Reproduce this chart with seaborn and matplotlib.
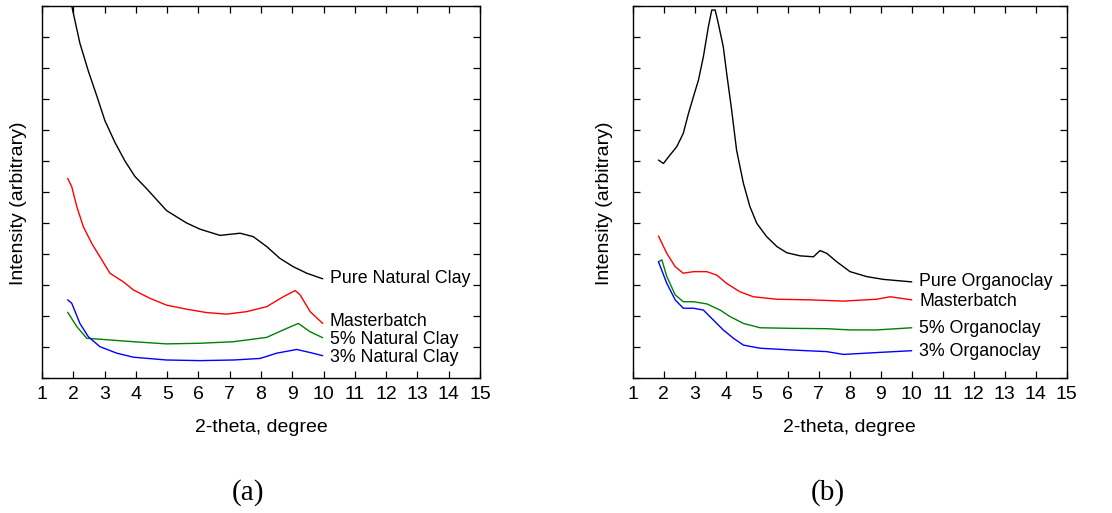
import pandas as pd
import matplotlib
matplotlib.use('Agg')
import matplotlib.pyplot as plt
import seaborn as sns

sns.set_style('ticks')
plt.rcParams['font.family'] = ['Liberation Sans', 'DejaVu Sans']
for k in ['text.color', 'axes.labelcolor', 'xtick.color', 'ytick.color', 'axes.edgecolor']:
    plt.rcParams[k] = 'black'

# (a) natural clay
a_pure_x = [1.82, 1.95, 2.21, 2.48, 2.75, 3.01, 3.33, 3.65, 3.97, 4.35, 4.98, 5.62, 6.05, 6.69, 7.33, 7.75, 8.18, 8.6, 9.03, 9.46, 9.97]
a_pure_y = [13.2, 12.0, 10.8, 9.9, 9.1, 8.3, 7.6, 7.0, 6.5, 6.1, 5.4, 5.0, 4.8, 4.6, 4.67, 4.56, 4.24, 3.86, 3.59, 3.38, 3.2]

a_master_x = [1.82, 1.95, 2.11, 2.32, 2.59, 2.85, 3.17, 3.6, 3.92, 4.45, 4.98, 5.62, 6.26, 6.9, 7.54, 8.18, 8.71, 9.09, 9.25, 9.57, 9.97]
a_master_y = [6.44, 6.17, 5.53, 4.88, 4.34, 3.91, 3.38, 3.1, 2.84, 2.57, 2.35, 2.22, 2.11, 2.06, 2.14, 2.3, 2.62, 2.82, 2.68, 2.14, 1.76]

a_5_x = [1.82, 2.11, 2.43, 2.85, 3.92, 4.98, 6.05, 7.12, 8.18, 8.71, 9.19, 9.57, 9.97]
a_5_y = [2.12, 1.66, 1.28, 1.25, 1.17, 1.10, 1.12, 1.17, 1.31, 1.55, 1.76, 1.49, 1.3]

a_3_x = [1.82, 1.95, 2.21, 2.48, 2.85, 3.39, 3.92, 4.98, 6.05, 7.12, 7.97, 8.5, 9.14, 9.57, 9.97]
a_3_y = [2.52, 2.41, 1.76, 1.33, 1.01, 0.8, 0.67, 0.58, 0.56, 0.58, 0.63, 0.8, 0.92, 0.82, 0.72]

# (b) organoclay
b_pure_x = [1.83, 1.99, 2.2, 2.42, 2.63, 2.8, 2.96, 3.12, 3.28, 3.44, 3.55, 3.66, 3.76, 3.92, 4.03, 4.19, 4.35, 4.57, 4.78, 5.0, 5.32, 5.65, 5.97, 6.4, 6.83, 7.04, 7.26, 7.58, 8.01, 8.55, 9.09, 10.0]
b_pure_y = [7.03, 6.92, 7.19, 7.46, 7.89, 8.54, 9.08, 9.61, 10.37, 11.33, 11.87, 11.87, 11.44, 10.69, 9.83, 8.65, 7.35, 6.28, 5.53, 4.99, 4.56, 4.24, 4.04, 3.94, 3.91, 4.11, 4.02, 3.75, 3.43, 3.27, 3.18, 3.1]

b_master_x = [1.83, 2.1, 2.37, 2.63, 2.96, 3.39, 3.71, 4.03, 4.46, 4.89, 5.65, 6.72, 7.8, 8.87, 9.3, 10.0]
b_master_y = [4.58, 4.02, 3.59, 3.38, 3.43, 3.43, 3.32, 3.05, 2.78, 2.62, 2.54, 2.52, 2.48, 2.54, 2.62, 2.52]

b_5_x = [1.83, 1.94, 2.1, 2.37, 2.63, 2.96, 3.39, 3.82, 4.14, 4.57, 5.11, 6.18, 7.26, 8.01, 8.87, 10.0]
b_5_y = [3.75, 3.81, 3.27, 2.68, 2.46, 2.46, 2.39, 2.19, 1.98, 1.76, 1.62, 1.6, 1.59, 1.55, 1.55, 1.62]

b_3_x = [1.83, 2.1, 2.37, 2.63, 2.96, 3.28, 3.6, 3.92, 4.25, 4.57, 5.11, 6.18, 7.26, 7.8, 8.87, 10.0]
b_3_y = [3.75, 3.05, 2.52, 2.25, 2.25, 2.19, 1.87, 1.55, 1.28, 1.06, 0.96, 0.9, 0.85, 0.76, 0.82, 0.88]

a_names = ['Pure Natural Clay', 'Masterbatch', '5% Natural Clay', '3% Natural Clay']
b_names = ['Pure Organoclay', 'Masterbatch', '5% Organoclay', '3% Organoclay']
colors = ['black', '#ff0000', '#008000', '#0000ff']

# label anchor positions (data coords)
a_label_y = [3.2, 1.82, 1.23, 0.66]
b_label_y = [3.1, 2.46, 1.6, 0.85]


def long_df(series, names):
    parts = []
    for (xs, ys), n in zip(series, names):
        parts.append(pd.DataFrame({'x': xs, 'y': ys, 'sample': n}))
    return pd.concat(parts, ignore_index=True)


df_a = long_df([(a_pure_x, a_pure_y), (a_master_x, a_master_y), (a_5_x, a_5_y), (a_3_x, a_3_y)], a_names)
df_b = long_df([(b_pure_x, b_pure_y), (b_master_x, b_master_y), (b_5_x, b_5_y), (b_3_x, b_3_y)], b_names)

fig = plt.figure(figsize=(11.12, 5.13), dpi=100)
ax1 = fig.add_axes([0.0378, 0.2632, 0.3939, 0.7251])
ax2 = fig.add_axes([0.569, 0.2632, 0.3903, 0.7251])

panels = [(ax1, df_a, a_names, a_label_y, 10.2, -0.034),
          (ax2, df_b, b_names, b_label_y, 10.25, -0.045)]

for ax, df, names, label_y, lx, ylx in panels:
    # 'Masterbatch' appears in both panels, so map colours per panel
    pal = dict(zip(names, colors))
    sns.lineplot(data=df, x='x', y='y', hue='sample', palette=pal, estimator=None,
                 sort=False, legend=False, linewidth=1.0, ax=ax)
    for n, yy in zip(names, label_y):
        ax.text(lx, yy, n, fontsize=12.8, va='center', ha='left')
    ax.set_xlim(1, 15)
    ax.set_ylim(0, 12)
    ax.set_xticks(range(1, 16))
    ax.set_yticks(range(0, 13))
    ax.set_yticklabels([])
    ax.tick_params(direction='in', top=True, right=True, length=5, width=0.9,
                   labelsize=14, pad=6)
    for s in ax.spines.values():
        s.set_linewidth(1.0)
    ax.set_xlabel('2-theta, degree', fontsize=14, labelpad=11)
    ax.set_ylabel('Intensity (arbitrary)', fontsize=14)
    ax.yaxis.set_label_coords(ylx, 0.47)

fig.text(248 / 1112, 1 - 493 / 513, '(a)', fontsize=21, ha='center', va='center',
         family=['Liberation Serif', 'DejaVu Serif'])
fig.text(828 / 1112, 1 - 493 / 513, '(b)', fontsize=21, ha='center', va='center',
         family=['Liberation Serif', 'DejaVu Serif'])

plt.savefig('out.png', dpi=100)
